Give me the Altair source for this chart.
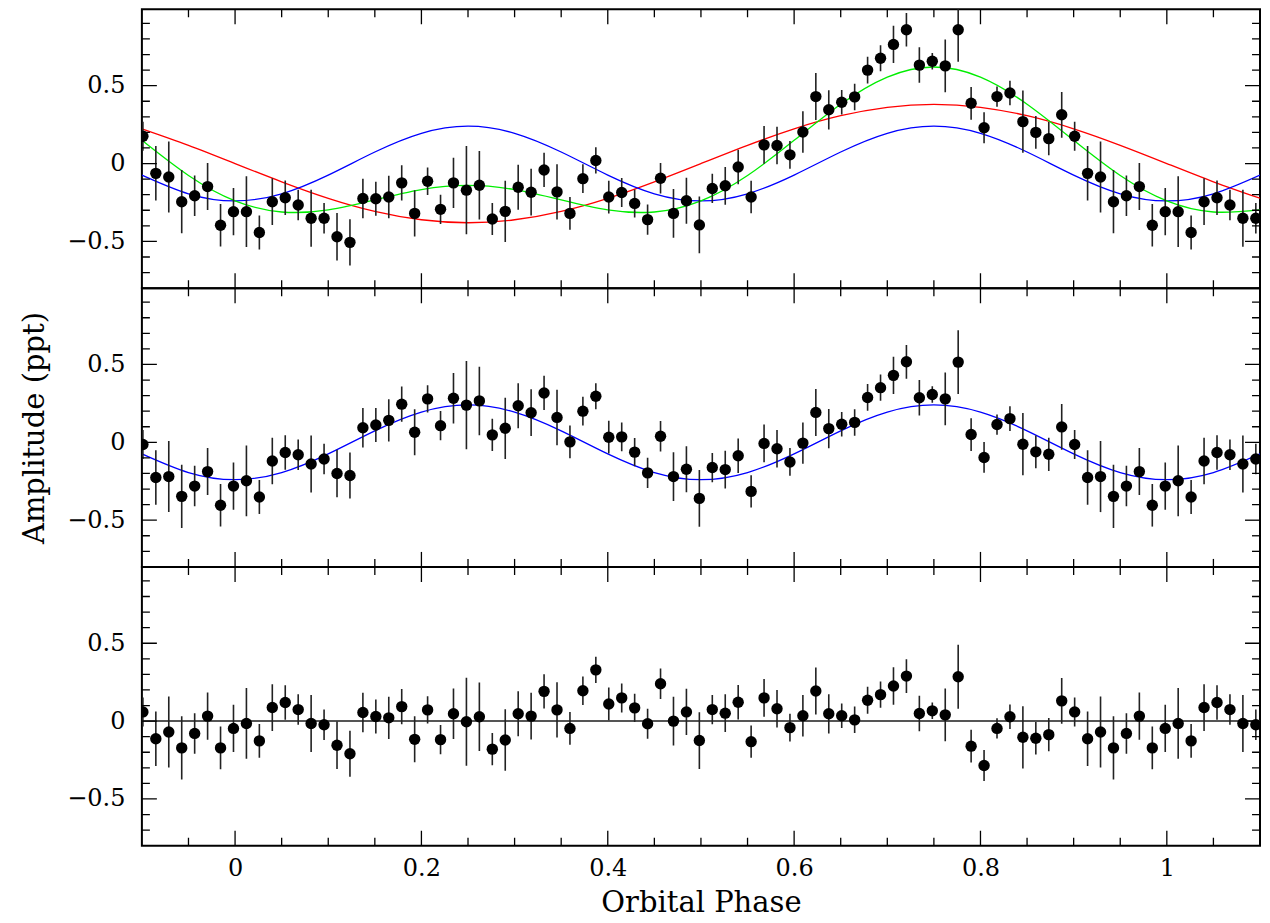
import altair as alt
import pandas as pd

# ---------------- data ----------------
N_BINS = 72
PHASE_OFFSET = -0.0017
K_FIRST, K_LAST = -7, 79          # bins drawn (phase folded and repeated)

# top panel: observed amplitude per phase bin k = 0..71
top_vals = [-0.309, -0.309, -0.443, -0.245, -0.220, -0.266, -0.351, -0.351, -0.470, -0.506,
            -0.224, -0.226, -0.215, -0.124, -0.320, -0.114, -0.294, -0.124, -0.171, -0.139,
            -0.356, -0.307, -0.152, -0.184, -0.041, -0.182, -0.320, -0.097, 0.020, -0.215,
            -0.186, -0.256, -0.360, -0.094, -0.320, -0.239, -0.394, -0.160, -0.143, -0.022,
            -0.215, 0.120, 0.116, 0.056, 0.203, 0.430, 0.345, 0.394, 0.428, 0.600,
            0.676, 0.765, 0.859, 0.632, 0.657, 0.627, 0.859, 0.387, 0.230, 0.430,
            0.453, 0.269, 0.200, 0.160, 0.313, 0.175, -0.063, -0.086, -0.245, -0.207,
            -0.148, -0.396]

# middle panel
mid_vals = [-0.281, -0.247, -0.351, -0.120, -0.065, -0.080, -0.139, -0.107, -0.200, -0.213,
            0.094, 0.111, 0.141, 0.245, 0.065, 0.279, 0.107, 0.283, 0.239, 0.266,
            0.048, 0.090, 0.235, 0.190, 0.317, 0.160, 0.003, 0.200, 0.296, 0.033,
            0.035, -0.063, -0.196, 0.039, -0.220, -0.173, -0.360, -0.162, -0.175, -0.086,
            -0.315, -0.007, -0.041, -0.126, -0.005, 0.192, 0.088, 0.116, 0.128, 0.288,
            0.351, 0.430, 0.517, 0.286, 0.307, 0.279, 0.515, 0.050, -0.097, 0.114,
            0.152, -0.012, -0.061, -0.077, 0.099, -0.014, -0.226, -0.220, -0.347, -0.281,
            -0.188, -0.404]

# bottom panel (residuals)
res_vals = [-0.047, -0.015, -0.127, 0.087, 0.119, 0.074, -0.015, -0.023, -0.155, -0.210,
            0.055, 0.030, 0.021, 0.093, -0.117, 0.072, -0.119, 0.047, -0.004, 0.028,
            -0.180, -0.121, 0.047, 0.032, 0.191, 0.072, -0.047, 0.195, 0.329, 0.110,
            0.149, 0.085, -0.017, 0.240, 0.000, 0.059, -0.125, 0.074, 0.051, 0.121,
            -0.132, 0.149, 0.079, -0.042, 0.034, 0.193, 0.047, 0.034, 0.008, 0.134,
            0.170, 0.225, 0.289, 0.049, 0.066, 0.040, 0.285, -0.161, -0.285, -0.047,
            0.028, -0.104, -0.110, -0.087, 0.130, 0.059, -0.113, -0.070, -0.172, -0.079,
            0.032, -0.172]

# 1-sigma error per bin (same in all panels)
err_vals = [0.152, 0.227, 0.109, 0.150, 0.111, 0.098, 0.183, 0.098, 0.152, 0.148,
            0.127, 0.109, 0.136, 0.113, 0.148, 0.088, 0.094, 0.162, 0.283, 0.220,
            0.103, 0.197, 0.144, 0.150, 0.110, 0.178, 0.105, 0.092, 0.084, 0.105,
            0.093, 0.090, 0.097, 0.098, 0.156, 0.148, 0.182, 0.094, 0.121, 0.111,
            0.104, 0.121, 0.120, 0.089, 0.133, 0.151, 0.126, 0.079, 0.085, 0.086,
            0.084, 0.120, 0.108, 0.114, 0.053, 0.170, 0.205, 0.105, 0.099, 0.065,
            0.079, 0.200, 0.105, 0.107, 0.147, 0.093, 0.175, 0.228, 0.203, 0.130,
            0.151, 0.137]

# model curves, read at phase steps of 0.05
curve_phase = [-0.10, -0.05, 0.00, 0.05, 0.10, 0.15, 0.20, 0.25, 0.30, 0.35, 0.40, 0.45,
               0.50, 0.55, 0.60, 0.65, 0.70, 0.75, 0.80, 0.85, 0.90, 0.95, 1.00, 1.05, 1.10]
red_curve = [0.223, 0.117, 0.000, -0.117, -0.223, -0.307, -0.361, -0.380, -0.361, -0.307,
             -0.223, -0.117, 0.000, 0.117, 0.223, 0.307, 0.361, 0.380, 0.361, 0.307,
             0.223, 0.117, 0.000, -0.117, -0.223]
blue_curve = [-0.074, -0.194, -0.240, -0.194, -0.074, 0.074, 0.194, 0.240, 0.194, 0.074,
              -0.074, -0.194, -0.240, -0.194, -0.074, 0.074, 0.194, 0.240, 0.194, 0.074,
              -0.074, -0.194, -0.240, -0.194, -0.074]
green_curve = [0.149, -0.077, -0.240, -0.311, -0.297, -0.233, -0.167, -0.140, -0.167, -0.233,
               -0.297, -0.311, -0.240, -0.077, 0.149, 0.381, 0.555, 0.620, 0.555, 0.381,
               0.149, -0.077, -0.240, -0.311, -0.297]

# axis ticks
x_label_values = [0, 0.2, 0.4, 0.6, 0.8, 1.0]
x_minor_ticks = [-0.05, 0.05, 0.1, 0.15, 0.25, 0.3, 0.35, 0.45, 0.5, 0.55, 0.65, 0.7,
                 0.75, 0.85, 0.9, 0.95, 1.05]
y_label_values = [-0.5, 0, 0.5]
y_minor_ticks = [-0.7, -0.6, -0.4, -0.3, -0.2, -0.1, 0.1, 0.2, 0.3, 0.4, 0.6, 0.7, 0.8, 0.9]
zero_line = [0.0]

# ---------------- tables ----------------
def points_table(vals):
    rows = []
    for k in range(K_FIRST, K_LAST + 1):
        i = k % N_BINS
        v = vals[i]
        e = err_vals[i]
        rows.append({"phase": k / N_BINS + PHASE_OFFSET, "amp": v, "lo": v - e, "hi": v + e})
    return pd.DataFrame(rows)

def curve_table(vals):
    return pd.DataFrame({"phase": curve_phase, "amp": vals})

# ---------------- styling ----------------
W, H = 1119, 279
XD = [-0.1, 1.1]
YD = [-0.8, 0.99]
FONT = "DejaVu Serif"
MAJ, MIN = 15, 8

xscale = alt.Scale(domain=XD, nice=False, zero=False)
yscale = alt.Scale(domain=YD, nice=False, zero=False)


def make_x(field, show):
    if show:
        ax = alt.Axis(values=x_label_values, format="~g", ticks=False, domain=False, grid=False,
                      labelFont=FONT, labelFontSize=24, labelColor="black", labelPadding=11,
                      title="Orbital Phase", titleFont=FONT, titleFontSize=29,
                      titleFontWeight="normal", titleColor="black", titlePadding=8)
    else:
        ax = None
    return alt.X(field, type="quantitative", scale=xscale, axis=ax)


def make_y(field, title_visible):
    ax = alt.Axis(values=y_label_values, format="~g", ticks=False, domain=False, grid=False,
                  labelFont=FONT, labelFontSize=24, labelColor="black", labelPadding=17,
                  title="Amplitude (ppt)", titleFont=FONT, titleFontSize=29,
                  titleFontWeight="normal", titleColor="black", titlePadding=17,
                  titleOpacity=1 if title_visible else 0)
    return alt.Y(field, type="quantitative", scale=yscale, axis=ax)


def panel(vals, curves, show_x, title_visible, zero=False):
    X = lambda f: make_x(f, show_x)
    Y = lambda f: make_y(f, title_visible)
    layers = []
    for cvals, col in curves:
        layers.append(
            alt.Chart(curve_table(cvals)).mark_line(color=col, strokeWidth=1.3,
                                                    interpolate="natural", clip=True)
            .encode(x=X("phase"), y=Y("amp"))
        )
    if zero:
        layers.append(
            alt.Chart(pd.DataFrame({"y": zero_line})).mark_rule(color="#555555", strokeWidth=2)
            .encode(y=Y("y"), x=alt.value(0), x2=alt.value(W))
        )
    pts = points_table(vals)
    layers.append(
        alt.Chart(pts).mark_rule(color="#222222", strokeWidth=1.6, clip=True)
        .encode(x=X("phase"), y=Y("lo"), y2="hi")
    )
    layers.append(
        alt.Chart(pts).mark_circle(color="black", size=130, opacity=1, clip=True)
        .encode(x=X("phase"), y=Y("amp"))
    )
    # inward tick marks on all four sides
    ymaj = pd.DataFrame({"v": y_label_values})
    ymin = pd.DataFrame({"v": y_minor_ticks})
    xmaj = pd.DataFrame({"v": x_label_values})
    xmin = pd.DataFrame({"v": x_minor_ticks})
    for df, L in ((ymaj, MAJ), (ymin, MIN)):
        layers.append(alt.Chart(df).mark_rule(color="black", strokeWidth=1.3, clip=True)
                      .encode(y=Y("v"), x=alt.value(0), x2=alt.value(L)))
        layers.append(alt.Chart(df).mark_rule(color="black", strokeWidth=1.3, clip=True)
                      .encode(y=Y("v"), x=alt.value(W - L), x2=alt.value(W)))
    for df, L in ((xmaj, MAJ), (xmin, MIN)):
        layers.append(alt.Chart(df).mark_rule(color="black", strokeWidth=1.3, clip=True)
                      .encode(x=X("v"), y=alt.value(H), y2=alt.value(H - L)))
        layers.append(alt.Chart(df).mark_rule(color="black", strokeWidth=1.3, clip=True)
                      .encode(x=X("v"), y=alt.value(0), y2=alt.value(L)))
    return alt.layer(*layers).properties(width=W, height=H)


top = panel(top_vals, [(red_curve, "#ff0000"), (blue_curve, "#0000ff"), (green_curve, "#00ee00")],
            show_x=False, title_visible=False)
mid = panel(mid_vals, [(blue_curve, "#0000ff")], show_x=False, title_visible=True)
bot = panel(res_vals, [], show_x=True, title_visible=False, zero=True)

chart = (
    alt.vconcat(top, mid, bot, spacing=0, bounds="flush")
    .properties(padding={"left": 11, "top": 0, "right": 0, "bottom": 0})
    .configure_view(stroke="black", strokeWidth=2)
)

chart.save("out.html", embed_options={"renderer": "svg", "actions": False})
